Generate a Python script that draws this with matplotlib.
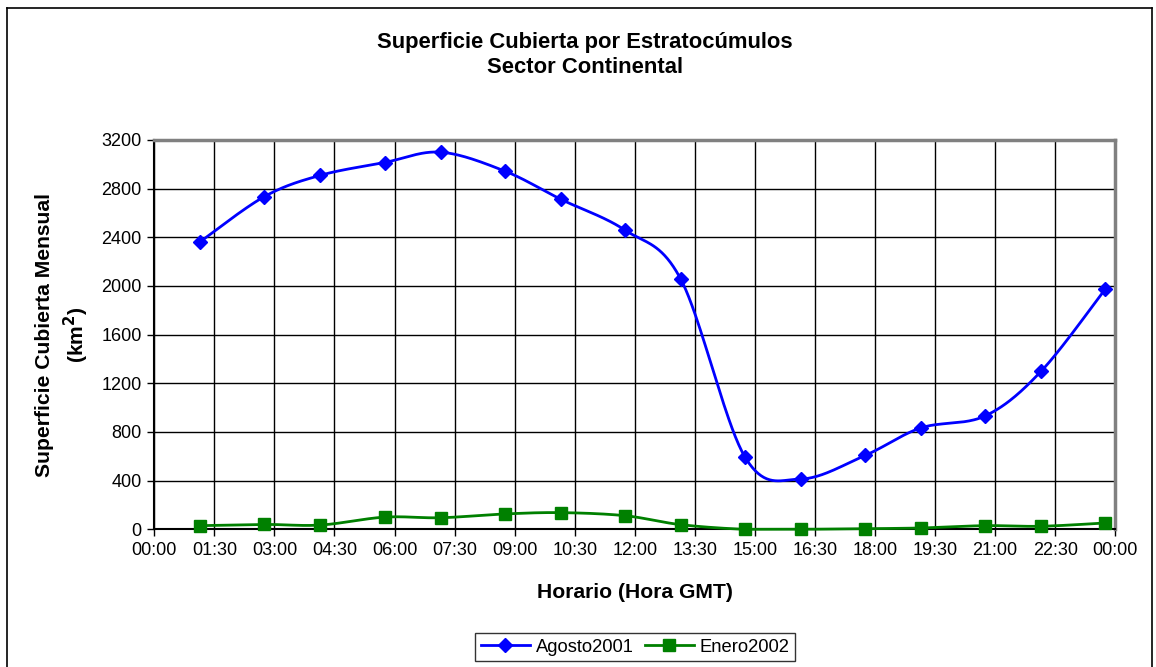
import numpy as np
import matplotlib
matplotlib.use('Agg')
import matplotlib.pyplot as plt
from matplotlib.lines import Line2D

plt.rcParams['font.family'] = ['Liberation Sans', 'DejaVu Sans']

# horas de pasada (hh:mm)
horas = ['01:09', '02:45', '04:09', '05:45', '07:09', '08:45', '10:09', '11:45',
         '13:09', '14:45', '16:09', '17:45', '19:09', '20:45', '22:09', '23:45']
agosto2001 = [2365, 2735, 2910, 3015, 3100, 2945, 2713, 2460,
              2055, 595, 414, 607, 834, 932, 1300, 1975]
enero2002 = [30, 40, 35, 100, 95, 126, 137, 112,
             38, 0, 0, 5, 11, 30, 25, 52]
ticks_x = ['00:00', '01:30', '03:00', '04:30', '06:00', '07:30', '09:00', '10:30',
           '12:00', '13:30', '15:00', '16:30', '18:00', '19:30', '21:00', '22:30', '00:00']
ticks_y = [0, 400, 800, 1200, 1600, 2000, 2400, 2800, 3200]


def a_horas(h):
    hh, mm = h.split(':')
    return int(hh) + int(mm) / 60.0


# suavizado tipo Excel (bezier catmull-rom)
def suavizar(x, y, n=40):
    p = np.column_stack([x, y]).astype(float)
    p = np.vstack([p[0], p, p[-1]])
    t = np.linspace(0, 1, n)[:, None]
    out = []
    for i in range(1, len(p) - 2):
        p0, p1, p2, p3 = p[i - 1], p[i], p[i + 1], p[i + 2]
        c1 = p1 + (p2 - p0) / 6.0
        c2 = p2 - (p3 - p1) / 6.0
        seg = ((1 - t) ** 3) * p1 + 3 * ((1 - t) ** 2) * t * c1 + 3 * (1 - t) * t ** 2 * c2 + t ** 3 * p2
        out.append(seg)
    out = np.vstack(out)
    return out[:, 0], out[:, 1]


x = np.array([a_horas(h) for h in horas])

fig = plt.figure(figsize=(11.56, 6.67), dpi=100)
ax = fig.add_axes([154.3 / 1156, 1 - 529.3 / 667, (1115.3 - 154.3) / 1156, (529.3 - 140) / 667])

azul = '#0000FF'
verde = '#008000'

sx, sy = suavizar(x, agosto2001)
ax.plot(sx, sy, color=azul, lw=2, zorder=3, clip_on=False)
ax.plot(x, agosto2001, ls='none', marker='D', ms=7, color=azul, zorder=4, clip_on=False)
sx, sy = suavizar(x, enero2002)
ax.plot(sx, np.maximum(sy, 0), color=verde, lw=2, zorder=3, clip_on=False)
ax.plot(x, enero2002, ls='none', marker='s', ms=8, color=verde, zorder=4, clip_on=False)

ax.set_xlim(0, 24)
ax.set_ylim(0, 3200)
ax.set_xticks(np.arange(0, 24.01, 1.5))
ax.set_xticklabels(ticks_x)
ax.set_yticks(ticks_y)
ax.set_yticklabels([str(v) for v in ticks_y])
ax.tick_params(labelsize=13, length=5, width=1, direction='out', colors='black', pad=4)
ax.grid(True, color='black', lw=1)
ax.set_axisbelow(True)

for s in ['left', 'bottom']:
    ax.spines[s].set_color('black')
    ax.spines[s].set_linewidth(1.5)
for s in ['top', 'right']:
    ax.spines[s].set_color('#808080')
    ax.spines[s].set_linewidth(2.5)

fig.text(635 / 1156, 1 - 592 / 667, 'Horario (Hora GMT)', fontsize=15.2, fontweight='bold',
         ha='center', va='center')
fig.text(45 / 1156, 1 - 335 / 667, 'Superficie Cubierta Mensual', rotation=90,
         fontsize=15.2, fontweight='bold', ha='center', va='center')
fig.text(76 / 1156, 1 - 335 / 667, '(km$^\\mathbf{2}$)', rotation=90,
         fontsize=15.2, fontweight='bold', ha='center', va='center')

fig.text(585 / 1156, 1 - 55 / 667, 'Superficie Cubierta por Estratocúmulos\nSector Continental',
         fontsize=15.8, fontweight='bold', ha='center', va='center', linespacing=1.2)

handles = [Line2D([], [], color=azul, lw=2, marker='D', ms=7),
           Line2D([], [], color=verde, lw=2, marker='s', ms=8)]
leg = fig.legend(handles, ['Agosto2001', 'Enero2002'], loc='center',
                 bbox_to_anchor=(635 / 1156, 1 - 647 / 667), ncol=2, numpoints=1,
                 fontsize=13.2, frameon=True, fancybox=False, edgecolor='black',
                 handlelength=2.7, columnspacing=0.6, handletextpad=0.3,
                 borderpad=0.3, borderaxespad=0)
leg.get_frame().set_linewidth(1)

# borde del area del grafico
fig.add_artist(Line2D([7 / 1156, 7 / 1156], [0, 1 - 8 / 667], color='black', lw=1.2))
fig.add_artist(Line2D([7 / 1156, 1152 / 1156], [1 - 8 / 667, 1 - 8 / 667], color='black', lw=1.2))
fig.add_artist(Line2D([1152 / 1156, 1152 / 1156], [0, 1 - 8 / 667], color='black', lw=1.2))

fig.savefig('out.png', dpi=100)
